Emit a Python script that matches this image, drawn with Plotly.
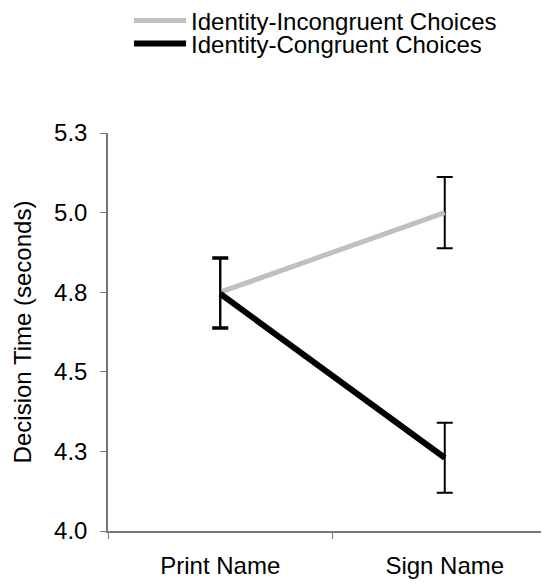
import plotly.graph_objects as go

conditions = ["Print Name", "Sign Name"]
incongruent = [4.75, 5.0]
incongruent_err = [0.11, 0.112]
congruent = [4.745, 4.23]
congruent_err = [0.11, 0.11]
y_tickvals = [4.0, 4.25, 4.5, 4.75, 5.0, 5.25]
y_ticktext = ["4.0", "4.3", "4.5", "4.8", "5.0", "5.3"]

FONT = "Liberation Sans, Arial, sans-serif"
FS = 24
fig = go.Figure()
fig.add_trace(go.Scatter(
    x=conditions, y=incongruent, mode="lines", name="Identity-Incongruent Choices",
    line=dict(color="#c0c0c0", width=5), legend="legend",
    error_y=dict(type="data", array=incongruent_err, color="black", thickness=2, width=8),
))
fig.add_trace(go.Scatter(
    x=conditions, y=congruent, mode="lines", name="Identity-Congruent Choices",
    line=dict(color="black", width=6), legend="legend2",
    error_y=dict(type="data", array=congruent_err, color="black", thickness=2, width=8),
))

leg_common = dict(x=0.0468, xanchor="left", yanchor="middle", yref="container",
                  font=dict(size=FS), itemwidth=52, bgcolor="rgba(0,0,0,0)")
fig.update_layout(
    width=549, height=587,
    margin=dict(l=100, r=0, t=125, b=64, autoexpand=False),
    plot_bgcolor="white", paper_bgcolor="white",
    font=dict(family=FONT, size=FS, color="black"),
    showlegend=True,
    legend=dict(y=1 - 13 / 587, **leg_common),
    legend2=dict(y=1 - 36 / 587, **leg_common),
    xaxis=dict(
        type="category", range=[-0.5, 1.5], showline=True, linecolor="#777", linewidth=1.5,
        ticks="outside", ticklen=6, tickcolor="#777", tickson="boundaries",
        showgrid=False, zeroline=False, tickfont=dict(size=FS), automargin=False,
        ticklabelstandoff=12,
    ),
    yaxis=dict(
        range=[4.0, 5.25], tickvals=y_tickvals, ticktext=y_ticktext,
        showline=True, linecolor="#777", linewidth=1.5, ticks="outside", ticklen=6,
        tickcolor="#777", showgrid=False, zeroline=False, tickfont=dict(size=FS),
        ticklabelstandoff=8, automargin=False,
        title=dict(text="Decision Time (seconds)", font=dict(size=FS), standoff=16),
    ),
)
fig.write_html("out.html")
